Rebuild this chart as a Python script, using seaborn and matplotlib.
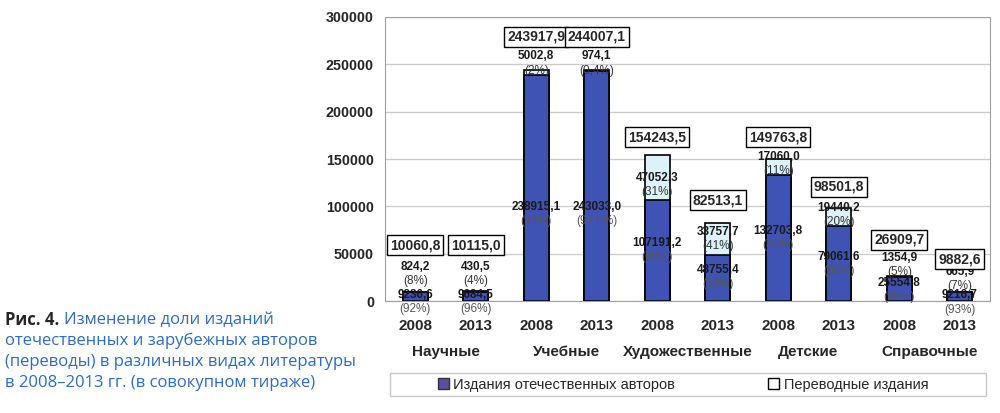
import numpy as np
import pandas as pd
import matplotlib
matplotlib.use("Agg")
import matplotlib.pyplot as plt
import seaborn as sns
from matplotlib.patches import Patch, Rectangle

# ---------------- DATA ----------------
CATEGORIES = ["Научные", "Учебные", "Художественные", "Детские", "Справочные"]
YEARS = ["2008", "2013"]
DOMESTIC = [9236.6, 9684.5, 238915.1, 243033.0, 107191.2, 48755.4, 132703.8, 79061.6, 25554.8, 9216.7]
TRANSLATED = [824.2, 430.5, 5002.8, 974.1, 47052.3, 33757.7, 17060.0, 19440.2, 1354.9, 665.9]
TOTALS = [10060.8, 10115.0, 243917.9, 244007.1, 154243.5, 82513.1, 149763.8, 98501.8, 26909.7, 9882.6]
DOM_PCT = ["92%", "96%", "98%", "99,6%", "69%", "59%", "89%", "80%", "95%", "93%"]
TR_PCT = ["8%", "4%", "2%", "0,4%", "31%", "41%", "11%", "20%", "5%", "7%"]

# label placement (data units)
DOM_LABEL_Y = [-1000, -1000, 92000, 92000, 54000, 25400, 66600, 39100, 11600, -1500]
TR_LABEL_Y = [28500, 28500, 250500, 250500, 122600, 65500, 144800, 90900, 38000, 23300]
TOTAL_LABEL_Y = [59000, 59000, 279000, 279000, 173000, 106700, 173000, 120500, 64500, 44400]
# ---------------------------------------

def fmt(v):
    return f"{v:.1f}".replace(".", ",")

sns.set_style("white")
plt.rcParams["font.family"] = ["Liberation Sans", "DejaVu Sans"]

BLUE = "#3f53b4"
LIGHT = "#dcf2f8"

keys = [f"{c} {y}" for c in CATEGORIES for y in YEARS]
df = pd.DataFrame({"key": keys, "domestic": DOMESTIC, "translated": TRANSLATED, "total": TOTALS})

fig = plt.figure(figsize=(10, 4.13), dpi=100)
ax = fig.add_axes([0.385, 0.271, 0.605, 0.688])

sns.barplot(data=df, x="key", y="total", color=LIGHT, edgecolor="black", linewidth=1.2,
            width=0.42, saturation=1, ax=ax)
sns.barplot(data=df, x="key", y="domestic", color=BLUE, edgecolor="black", linewidth=1.2,
            width=0.42, saturation=1, ax=ax)

ax.set_ylim(0, 300000)
ax.set_xlim(-0.5, len(keys) - 0.5)
ax.set_yticks(np.arange(0, 300001, 50000))
ax.set_yticklabels([str(v) for v in range(0, 300001, 50000)], fontsize=10.3, fontweight="bold")
ax.yaxis.grid(True, color="#cccccc", linewidth=1)
ax.set_axisbelow(True)
for s in ax.spines.values():
    s.set_color("#a0a0a0")
ax.tick_params(axis="y", length=4, color="#808080", pad=4)
ax.set_xticks(range(len(keys)))
ax.set_xticklabels(YEARS * len(CATEGORIES), fontsize=11, fontweight="bold")
ax.tick_params(axis="x", length=0, pad=13)
ax.set_xlabel("")
ax.set_ylabel("")

for i, cat in enumerate(CATEGORIES):
    ax.text(2 * i + 0.5, -0.18, cat, transform=ax.get_xaxis_transform(),
            ha="center", va="center", fontsize=11, fontweight="bold")

for i in range(len(keys)):
    # domestic labels
    ax.text(i, DOM_LABEL_Y[i], fmt(DOMESTIC[i]) + "\n ", ha="center", va="center",
            fontsize=8.5, fontweight="bold", color="#1a1a1a", linespacing=1.3)
    ax.text(i, DOM_LABEL_Y[i], " \n(" + DOM_PCT[i] + ")", ha="center", va="center",
            fontsize=8.5, color="#555555", linespacing=1.3)
    # translated labels
    ax.text(i, TR_LABEL_Y[i], fmt(TRANSLATED[i]) + "\n ", ha="center", va="center",
            fontsize=8.5, fontweight="bold", color="#1a1a1a", linespacing=1.3)
    ax.text(i, TR_LABEL_Y[i], " \n(" + TR_PCT[i] + ")", ha="center", va="center",
            fontsize=8.5, color="#333333", linespacing=1.3)
    # totals in boxes
    ax.text(i, TOTAL_LABEL_Y[i], fmt(TOTALS[i]), ha="center", va="center",
            fontsize=10, fontweight="bold",
            bbox=dict(boxstyle="square,pad=0.22", facecolor="white", edgecolor="black", linewidth=1))

# legend with its own frame
fig.patches.append(Rectangle((0.39, 0.04), 0.596, 0.058, transform=fig.transFigure,
                             facecolor="white", edgecolor="#c8c8c8", linewidth=1))
handles = [Patch(facecolor="#5a4f9f", edgecolor="#333333", label="Издания отечественных авторов"),
           Patch(facecolor="white", edgecolor="black", label="Переводные издания")]
fig.legend(handles=handles, loc="center", bbox_to_anchor=(0.683, 0.069), ncol=2, frameon=False,
           fontsize=10.5, handlelength=0.75, handleheight=0.75, handletextpad=0.3, columnspacing=6.4)

# caption
CAP_BLUE = "#2d6cb8"
cap_font = ["Open Sans", "DejaVu Sans"]
lines = ["отечественных и зарубежных авторов",
         "(переводы) в различных видах литературы",
         "в 2008–2013 гг. (в совокупном тираже)"]
t0 = fig.text(0.005, 1 - 320 / 413, "Рис. 4.", fontsize=12, fontweight="bold",
              family=cap_font, va="center", ha="left")
fig.canvas.draw()
bb = t0.get_window_extent()
x1 = (bb.x1 + 5) / fig.bbox.width
fig.text(x1, 1 - 320 / 413, "Изменение доли изданий", fontsize=12, color=CAP_BLUE,
         family=cap_font, va="center", ha="left")
for k, line in enumerate(lines):
    fig.text(0.005, 1 - (341 + 21 * k) / 413, line, fontsize=12, color=CAP_BLUE,
             family=cap_font, va="center", ha="left")

fig.savefig("out.png", dpi=100)
